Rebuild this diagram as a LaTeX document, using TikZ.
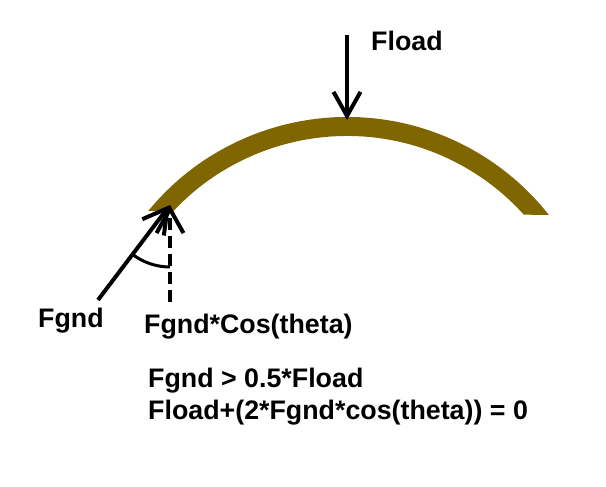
\documentclass[tikz,border=0pt]{standalone}
\usepackage{fontspec}
\setmainfont{Liberation Sans}
\usepackage{tikz}
\usetikzlibrary{arrows.meta}
\usepackage{xcolor}
\definecolor{beam}{RGB}{128,102,0}
\tikzset{
	force/.style={%
		line width=4pt,
		-{Straight Barb[length=24pt,width=27pt]}
	},
	label/.style={%
		inner sep=0pt, anchor=base west,
		font=\fontsize{26.8}{30}\selectfont\bfseries
	}
}
\begin{document}
\begin{tikzpicture}[x=1pt,y=1pt]
		% frame of the figure
		\useasboundingbox (0,0) rectangle (606,487);
		
		% points of the forces
		\coordinate (top) at (347,367);
		\coordinate (loadtail) at (347,452);
		\coordinate (foot) at (170,282);
		\coordinate (gndtail) at (98,187);
		\coordinate (dashtail) at (170,185);
		
		% the beam
		\begin{scope}
		\clip (0,277.5) -- (606,271.5) -- (606,487) -- (0,487) -- cycle;
		\draw[beam,line width=19pt] (347,113) ++(150:247.5) arc[start angle=150,end angle=30,radius=247.5];
		\end{scope}
		
		%arrows of the forces
		\draw[force] (loadtail)--(top);
		\draw[force] (gndtail)--(foot);
		\draw[force,dash pattern=on 12pt off 6pt] (dashtail)--(foot);
		
		% angle theta
		\draw[line width=3pt] (foot) ++(232.8:62) arc[start angle=232.8,end angle=270,radius=62];
		
		% texts
		\node[label] (fload) at (371,436) {Fload};
		\node[label] (fgnd) at (38,159) {Fgnd};
		\node[label] (fgndcos) at (144,153) {Fgnd*Cos(theta)};
		\node[label] (eqone) at (148,99) {Fgnd > 0.5*Fload};
		\node[label] (eqtwo) at (148,67) {Fload+(2*Fgnd*cos(theta)) = 0};
		
\end{tikzpicture}
\end{document}
